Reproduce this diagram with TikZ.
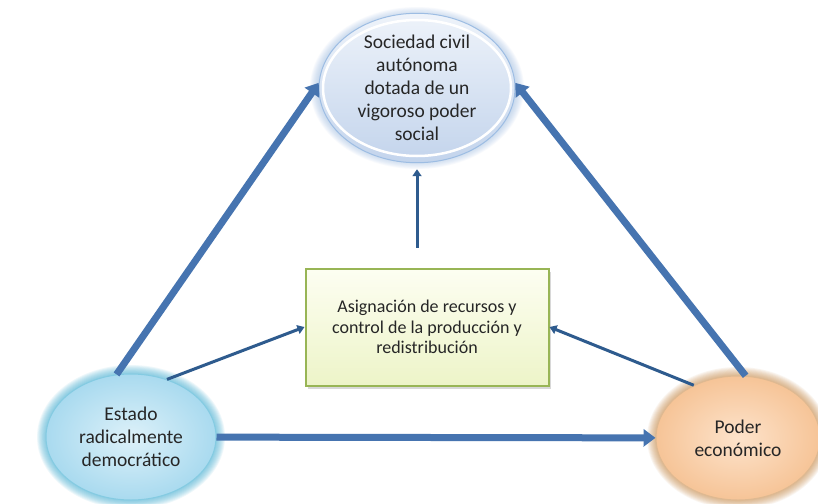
\documentclass[tikz,border=0pt]{standalone}
\usepackage{fontspec}
\setmainfont{Carlito}
\usetikzlibrary{arrows.meta,shapes.geometric,shadows}
\definecolor{arrowblue}{HTML}{4674B0}
\definecolor{arrowdark}{HTML}{2E5B8E}
\definecolor{topfillA}{HTML}{EEF3FA}
\definecolor{topfillB}{HTML}{C3D4EC}
\definecolor{topglow}{HTML}{9DBDE3}
\definecolor{leftfillA}{HTML}{DDF1F9}
\definecolor{leftfillB}{HTML}{A9DAEF}
\definecolor{leftglow}{HTML}{4FB4D6}
\definecolor{rightfillA}{HTML}{FDE3CB}
\definecolor{rightfillB}{HTML}{F6C497}
\definecolor{rightglow}{HTML}{C88A48}
\definecolor{boxfillA}{HTML}{FDFEF2}
\definecolor{boxfillB}{HTML}{EDF4C8}
\definecolor{boxline}{HTML}{98B555}
\definecolor{txt}{HTML}{262626}
\begin{document}
\begin{tikzpicture}[x=1pt,y=-1pt,
  oval/.style={ellipse, inner sep=0pt, align=center, text=txt, font=\fontsize{19.5}{23}\selectfont},
  bigarrow/.style={draw=arrowblue, line width=7pt, -{Triangle[width=17pt,length=12pt]}},
  thinarrow/.style={draw=arrowdark, line width=3pt, -{Triangle[width=9pt,length=7pt]}},
  boxstyle/.style={draw=boxline, line width=2pt, top color=boxfillA, bottom color=boxfillB,
    minimum width=243, minimum height=117, align=center, text=txt,
    font=\fontsize{18}{20.5}\selectfont,
    drop shadow={shadow xshift=2pt, shadow yshift=-3pt, opacity=0.3}}
]
\useasboundingbox[fill=white] (0,0) rectangle (818,503);
% glows
\foreach \i in {1,...,10}{
  \fill[topglow, opacity=0.07] (417,88) ellipse [x radius=98+\i*0.9, y radius=72+\i*0.9];
  \fill[leftglow, opacity=0.09] (131,437) ellipse [x radius=85+\i*0.9, y radius=63+\i*0.9];
  \fill[rightglow, opacity=0.08] (738,438) ellipse [x radius=82+\i*0.9, y radius=62+\i*0.9];
}
\node[oval, minimum width=196, minimum height=144, draw=topglow, line width=1pt,
  top color=topfillA, bottom color=topfillB] (T) at (417,88)
  {Sociedad civil\\autónoma\\dotada de un\\vigoroso poder\\social};
\draw[white, line width=2.5pt] (417,88) ellipse [x radius=94, y radius=68];
\node[oval, minimum width=170, minimum height=126, draw=leftglow!70, line width=1pt,
  inner color=leftfillA, outer color=leftfillB] (L) at (131,437)
  {Estado\\radicalmente\\democrático};
\node[oval, minimum width=164, minimum height=124, draw=rightglow!60, line width=1pt,
  inner color=rightfillA, outer color=rightfillB] (R) at (738,438)
  {Poder\\económico};
\node[boxstyle] (B) at (427,327)
  {Asignación de recursos y\\control de la producción y\\redistribución};
% connectors
\draw[bigarrow] (L.103) -- (T.177);
\draw[bigarrow] (R.83) -- (T.3);
\draw[bigarrow] (L) -- (R);
\draw[thinarrow] (L.58) -- (B.west);
\draw[thinarrow] (R.130) -- (B.east);
\draw[thinarrow, shorten <=20pt, shorten >=6pt] (B.north -| T.south) -- (T.south);
\end{tikzpicture}
\end{document}
